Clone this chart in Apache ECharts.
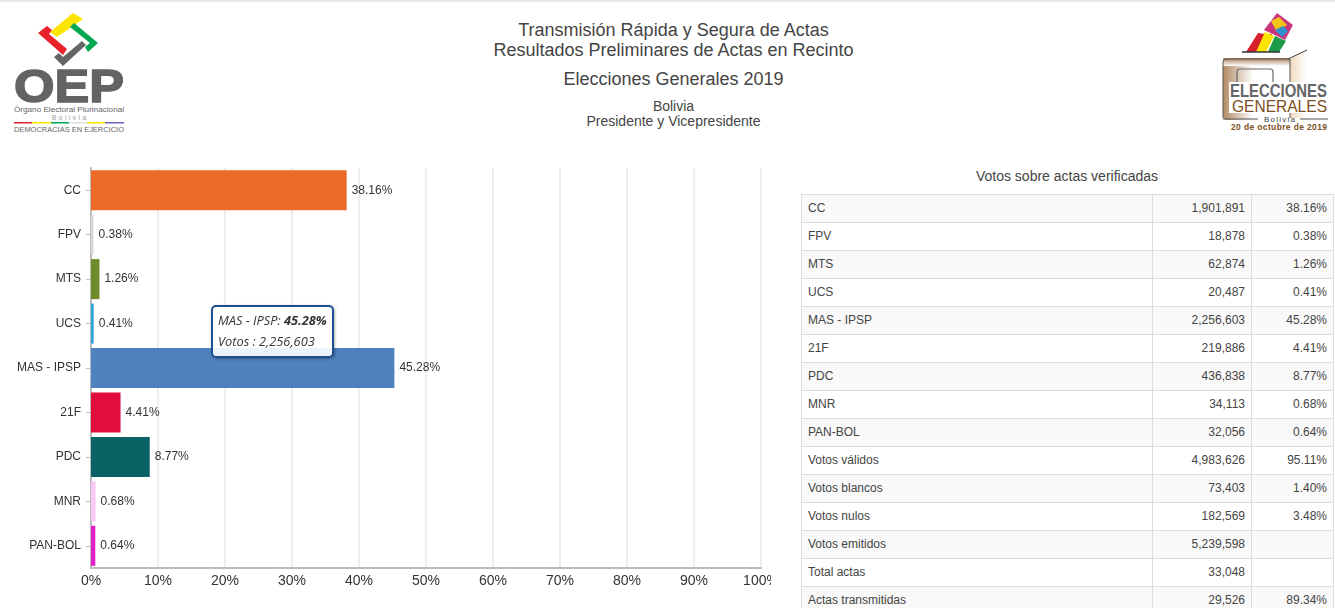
<!DOCTYPE html>
<html><head><meta charset="utf-8">
<script src="https://cdn.jsdelivr.net/npm/echarts@6/dist/echarts.min.js"></script>
<style>
html,body{margin:0;padding:0;background:#fff;width:1335px;height:608px;overflow:hidden;font-family:"Liberation Sans",Arial,sans-serif;color:#333}
#top{position:absolute;left:0;top:0;width:1335px;height:2px;background:#e7e7e7}
.t{position:absolute;left:0;width:1347px;text-align:center;white-space:nowrap;color:#444}
#chart{position:absolute;left:0;top:150px;width:771px;height:458px}
#tt{position:absolute;left:801px;top:167px;width:532px;text-align:center;font-size:14px;line-height:18px;color:#444}
table{position:absolute;left:801px;top:194px;width:532px;border-collapse:collapse;table-layout:fixed;font-size:12px;color:#444}
td{border:1px solid #ddd;padding:0 6px 2px 6px;box-sizing:border-box;height:28px;white-space:nowrap}
tr:nth-child(odd) td{background:#f9f9f9}
td+td{text-align:right}
svg{position:absolute}
</style></head><body>
<div id="top"></div>
<div class="t" style="top:20px;font-size:18px;line-height:20px">Transmisión Rápida y Segura de Actas<br>Resultados Preliminares de Actas en Recinto</div>
<div class="t" style="top:69px;font-size:18px;line-height:20px">Elecciones Generales 2019</div>
<div class="t" style="top:99px;font-size:14px;line-height:15px">Bolivia<br>Presidente y Vicepresidente</div>

<svg style="left:0;top:0" width="140" height="140" viewBox="0 0 140 140" font-family="Liberation Sans">
  <polygon points="50,32 73,13 83,19 57,37" fill="#fde400"/>
  <polygon points="38,33 47,26 52,30 49,34 67,49 63,55" fill="#e8222a"/>
  <polygon points="70,27 74,23 98,43 88,52 85,47 90,43" fill="#00a651"/>
  <polygon points="54,57 59,53 63,57 82,41 86,45 63,66" fill="#666"/>
  <text x="14" y="102" font-size="47" font-weight="bold" fill="#636363" stroke="#636363" stroke-width="1.6" textLength="110" lengthAdjust="spacingAndGlyphs">OEP</text>
  <text x="14" y="112" font-size="7.5" fill="#666" textLength="110" lengthAdjust="spacingAndGlyphs">Órgano Electoral Plurinacional</text>
  <text x="52" y="120" font-size="6.5" fill="#999" textLength="34">Bolivia</text>
  <rect x="14" y="122" width="18" height="1.5" fill="#e8222a"/><rect x="32" y="122" width="19" height="1.5" fill="#fde400"/><rect x="51" y="122" width="18" height="1.5" fill="#00a651"/><rect x="69" y="122" width="18" height="1.5" fill="#ddd"/><rect x="87" y="122" width="18" height="1.5" fill="#fde400"/><rect x="105" y="122" width="19" height="1.5" fill="#6f5fc0"/>
  <text x="14" y="132" font-size="7.5" fill="#666" textLength="110" lengthAdjust="spacingAndGlyphs">DEMOCRACIAS EN EJERCICIO</text>
</svg>
<svg style="left:1180px;top:0" width="155" height="140" viewBox="0 0 155 140" font-family="Liberation Sans">
  <defs>
    <linearGradient id="g" x1="0" x2="1" y1="0" y2="0"><stop offset="0" stop-color="#b18a63"/><stop offset=".45" stop-color="#fff"/></linearGradient>
    <linearGradient id="g2" x1="0" x2="0" y1="0" y2="1"><stop offset="0" stop-color="#a67c52"/><stop offset="1" stop-color="#fff"/></linearGradient>
    <linearGradient id="g3" x1="0" x2="1" y1="0" y2="0"><stop offset="0" stop-color="#f1d9c0"/><stop offset="1" stop-color="#fff"/></linearGradient>
  </defs>
  <polygon points="110,58 127,50 127,118 110,118" fill="url(#g3)"/>
  <rect x="43" y="58" width="67" height="62" rx="4" fill="url(#g)"/>
  <rect x="43" y="58" width="67" height="8" fill="url(#g2)"/>
  <polygon points="66,52 78,33 85,34 92,34 84,52" fill="#d81e2a"/>
  <polygon points="76,52 85,32 94,36 86,52" fill="#fde400"/>
  <polygon points="88,52 95,36 106,41 99,52" fill="#1c9a48"/>
  <polygon points="84,30 97,13 113,25 105,40" fill="#c9367e"/>
  <polygon points="91,21 99,17 107,25 97,32" fill="#f4c518"/>
  <polygon points="95,30 103,26 108,31 102,37" fill="#2e8fd0"/>
  <path d="M62,52H100" stroke="#333" stroke-width="1.5" fill="none"/>
  <path d="M108,59L127,50" stroke="#444" stroke-width="1" fill="none"/>
  <path d="M43,118V62Q43,59 47,59H110V118" stroke="#555" stroke-width="1" fill="none"/>
  <path d="M57,82V72Q57,69 60,69H90Q93,69 93,72V82" stroke="#666" stroke-width="1.2" fill="none"/>
  <rect x="49" y="82" width="99" height="31" fill="#fff"/>
  <text x="50" y="97" font-size="18" font-weight="bold" fill="#666" textLength="97" lengthAdjust="spacingAndGlyphs">ELECCIONES</text>
  <text x="52" y="112" font-size="17" fill="#7d4f22" textLength="95" lengthAdjust="spacingAndGlyphs">GENERALES</text>
  <path d="M43,119H78M120,119H148" stroke="#555" stroke-width="1" fill="none"/>
  <text x="84" y="122" font-size="8" fill="#444" textLength="31">Bolivia</text>
  <text x="51" y="130" font-size="8.5" font-weight="bold" fill="#7d4f22" textLength="96">20 de octubre de 2019</text>
</svg>

<div id="chart"></div>
<div id="tt">Votos sobre actas verificadas</div>
<table id="tb"><colgroup><col style="width:351px"><col style="width:99px"><col style="width:82px"></colgroup><tbody></tbody></table>

<script>
var categories = ['CC','FPV','MTS','UCS','MAS - IPSP','21F','PDC','MNR','PAN-BOL'];
var percents = [38.16,0.38,1.26,0.41,45.28,4.41,8.77,0.68,0.64];
var votes = ['1,901,891','18,878','62,874','20,487','2,256,603','219,886','436,838','34,113','32,056'];
var barColors = ['#EB6A27','#D8D8D8','#6F8A2B','#2FA6DA','#4F81BD','#E30D3B','#0B6265','#FBC8F4','#E01FC6'];
var tickLabels = [0,10,20,30,40,50,60,70,80,90,100];
var extraNames = ['Votos válidos','Votos blancos','Votos nulos','Votos emitidos','Total actas','Actas transmitidas'];
var extraCounts = ['4,983,626','73,403','182,569','5,239,598','33,048','29,526'];
var extraPercents = ['95.11%','1.40%','3.48%','','','89.34%'];

var rows = categories.map(function(c,i){return [c,votes[i],percents[i].toFixed(2)+'%'];})
  .concat(extraNames.map(function(c,i){return [c,extraCounts[i],extraPercents[i]];}));
document.querySelector('#tb tbody').innerHTML = rows.map(function(r){
  return '<tr><td>'+r[0]+'</td><td>'+r[1]+'</td><td>'+r[2]+'</td></tr>';}).join('');

var chart = echarts.init(document.getElementById('chart'),null,{renderer:'canvas'});
chart.setOption({
  animation:false,
  textStyle:{fontFamily:'"Liberation Sans",Arial,sans-serif'},
  grid:{left:91,right:10,top:18,bottom:40,containLabel:false,outerBoundsMode:'none'},
  xAxis:{type:'value',min:0,max:tickLabels[tickLabels.length-1],interval:10,
    axisLine:{show:true,lineStyle:{color:'#BBBBBB',width:2}},
    axisTick:{show:false},
    splitLine:{show:true,lineStyle:{color:'#EEEEEE',width:2}},
    axisLabel:{color:'#333',fontSize:14,margin:6,formatter:'{value}%',hideOverlap:false}},
  yAxis:{type:'category',inverse:true,data:categories,
    axisLine:{show:true,lineStyle:{color:'#BBBBBB',width:2}},
    axisTick:{show:true,alignWithLabel:true,length:5,lineStyle:{color:'#BBBBBB',width:1}},
    axisLabel:{color:'#333',fontSize:12,margin:10}},
  tooltip:{trigger:'item',alwaysShowContent:true,showDelay:0,transitionDuration:0,
    position:[211,155],
    padding:[3,5,4,5],
    backgroundColor:'rgba(255,255,255,0.9)',borderColor:'#1B4F8F',borderWidth:2,
    extraCssText:'border-radius:5px;box-shadow:1px 1px 3px rgba(0,0,0,.3);line-height:21px;white-space:nowrap;box-sizing:border-box;',
    textStyle:{fontFamily:'"Open Sans",sans-serif',fontSize:12.8,color:'#333'},
    formatter:function(p){return '<i>'+p.name+': <b>'+p.value.toFixed(2)+'%</b><br>Votos : '+votes[p.dataIndex]+'</i>';}},
  series:[{type:'bar',barWidth:'90%',
    data:percents.map(function(v,i){return {value:v,itemStyle:{color:barColors[i]}};}),
    label:{show:true,position:'right',distance:5,color:'#333',fontSize:12,
      formatter:function(p){return p.value.toFixed(2)+'%';}}}]
});
chart.dispatchAction({type:'showTip',seriesIndex:0,dataIndex:4});
</script>
</body></html>
